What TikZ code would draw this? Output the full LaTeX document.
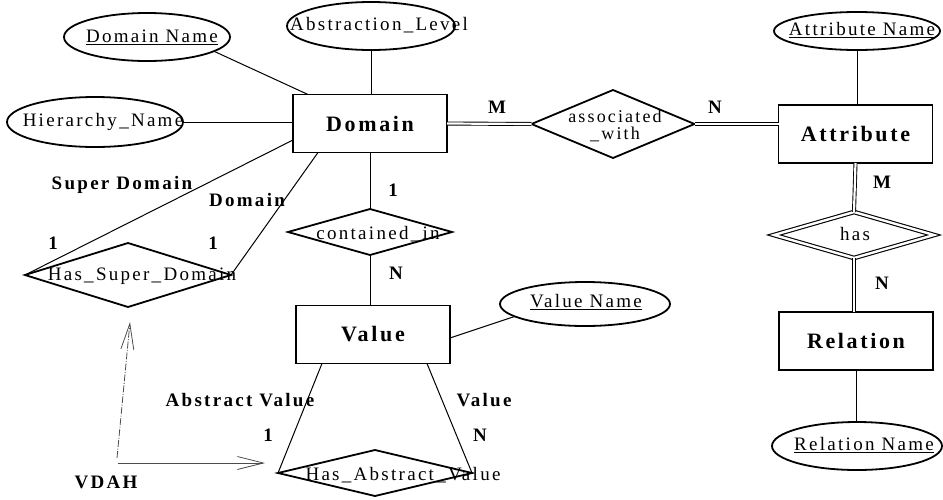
\documentclass[tikz,border=0pt]{standalone}
\usepackage{fontspec}
\setmainfont{Liberation Serif}[LetterSpace=12]
\usetikzlibrary{shapes.geometric,arrows.meta}

\begin{document}
\begin{tikzpicture}[x=1pt,y=-1pt,
  every node/.style={inner sep=0pt, outer sep=0pt},
  entity/.style={draw, line width=1.6pt, minimum width=154pt, minimum height=58pt,
                 font=\fontsize{22}{24}\selectfont\bfseries},
  attrib/.style={draw, ellipse, line width=1.8pt},
  relship/.style={draw, diamond, line width=1.8pt},
  weakrel/.style={draw, diamond, double, double distance=2.4pt, line width=1.1pt},
  lbl/.style={font=\fontsize{19}{21}\selectfont\bfseries},
  intext/.style={font=\fontsize{19}{21}\selectfont},
  link/.style={line width=1pt},
  dlink/.style={double, double distance=2.2pt, line width=0.9pt},
  vdah/.style={black!70, line width=0.8pt, -{Straight Barb[length=26pt,width=13pt]}}
]
\useasboundingbox (0,0) rectangle (943,499);

% entities
\node[entity] (dom) at (370,123.5) {Domain};
\node[entity] (att) at (855.5,134) {Attribute};
\node[entity] (val) at (373,334.5) {Value};
\node[entity] (rel) at (856,341) {Relation};

% attributes
\node[attrib, minimum width=166pt, minimum height=48pt] (dname) at (147,37) {};
\node[intext] (dnamet) at (152,37) {\underline{Domain Name}};
\node[attrib, minimum width=168pt, minimum height=48pt] (alevel) at (371,26) {};
\node[intext] (alevelt) at (379,25) {Abstraction\_Level};
\node[attrib, minimum width=176pt, minimum height=50pt] (hname) at (95,122) {};
\node[intext] (hnamet) at (103,122) {Hierarchy\_Name};
\node[attrib, minimum width=166pt, minimum height=38pt] (aname) at (857,31) {};
\node[intext] (anamet) at (862,30) {\underline{Attribute Name}};
\node[attrib, minimum width=170pt, minimum height=44pt] (vname) at (585,304) {};
\node[intext] (vnamet) at (586,302) {\underline{Value Name}};
\node[attrib, minimum width=170pt, minimum height=48pt] (rname) at (857,446) {};
\node[intext] (rnamet) at (864,445) {\underline{Relation Name}};

% relationships
\node[relship, minimum width=206pt, minimum height=64pt] (hsd) at (128,275) {};
\node[intext] (hsdt) at (142,276) {Has\_Super\_Domain};
\node[relship, minimum width=164pt, minimum height=46pt] (cin) at (370,232) {};
\node[intext] (cint) at (378,234) {contained\_in};
\node[relship, minimum width=194pt, minimum height=46pt] (hav) at (375,473) {};
\node[intext] (havt) at (403,475) {Has\_Abstract\_Value};
\node[relship, minimum width=163pt, minimum height=68pt] (assoc) at (613,124) {};
\node[intext, align=center, font=\fontsize{18}{17}\selectfont] (assoct) at (615,126) {associated\\\_with};
\node[weakrel, minimum width=160pt, minimum height=46pt] (has) at (854,235) {};
\node[intext] (hast) at (855,234) {has};

% attribute links
\draw[link] (dname.-12) -- ([xshift=15pt]dom.north west);
\draw[link] (alevel.south) -- (alevel.south |- dom.north);
\draw[link] (hname.east) -- (hname.east -| dom.west);
\draw[link] (aname.south) -- (aname.south |- att.north);
\draw[link] ([yshift=-3.5pt]val.east) -- (vname.190);
\draw[link] (rel.south) -- (rel.south |- rname.north);

% relationship links
\draw[link] (hsd.west) -- ([yshift=-16.5pt]dom.west);
\draw[link] (hsd.east) -- ([xshift=-52pt]dom.south);
\draw[link] (dom.south) -- (cin.north);
\draw[link] (cin.south) -- (cin.south |- val.north);
\draw[link] (hav.west) -- ([xshift=-51pt]val.south);
\draw[link] (hav.east) -- ([xshift=54pt]val.south);
\draw[dlink] (dom.east) -- (assoc.west);
\draw[dlink] (assoc.east) -- (assoc.east -| att.west);
\draw[dlink] (att.south) -- (has.north);
\draw[dlink] (has.south) -- (has.south |- rel.north);

% cardinalities and role names
\node[lbl] (m1) at (497,107) {M};
\node[lbl] (n1) at (715,107) {N};
\node[lbl] (m2) at (882,182) {M};
\node[lbl] (n2) at (882,283) {N};
\node[lbl] (c1) at (393,190) {1};
\node[lbl] (cn) at (396,273) {N};
\node[lbl] (rsd) at (122,185) {Super Domain};
\node[lbl] (rd) at (247,200) {Domain};
\node[lbl] (s1) at (53,243) {1};
\node[lbl] (s2) at (213,243) {1};
\node[lbl] (rav) at (240,400) {Abstract Value};
\node[lbl] (a1) at (268,435) {1};
\node[lbl] (rv) at (484,400) {Value};
\node[lbl] (an) at (480,435) {N};

% value/domain abstraction hierarchy arrows
\coordinate (vstart) at (117,458);
\coordinate (vtip) at (130,322);
\coordinate (hstart) at (118,463);
\coordinate (htip) at (265,463);
\draw[vdah, dash pattern=on 7pt off 1.5pt on 1pt off 1.5pt] (vstart) -- (vtip);
\draw[vdah] (hstart) -- (htip);
\node[lbl] (vdaht) at (106,482) {VDAH};
\end{tikzpicture}
\end{document}
